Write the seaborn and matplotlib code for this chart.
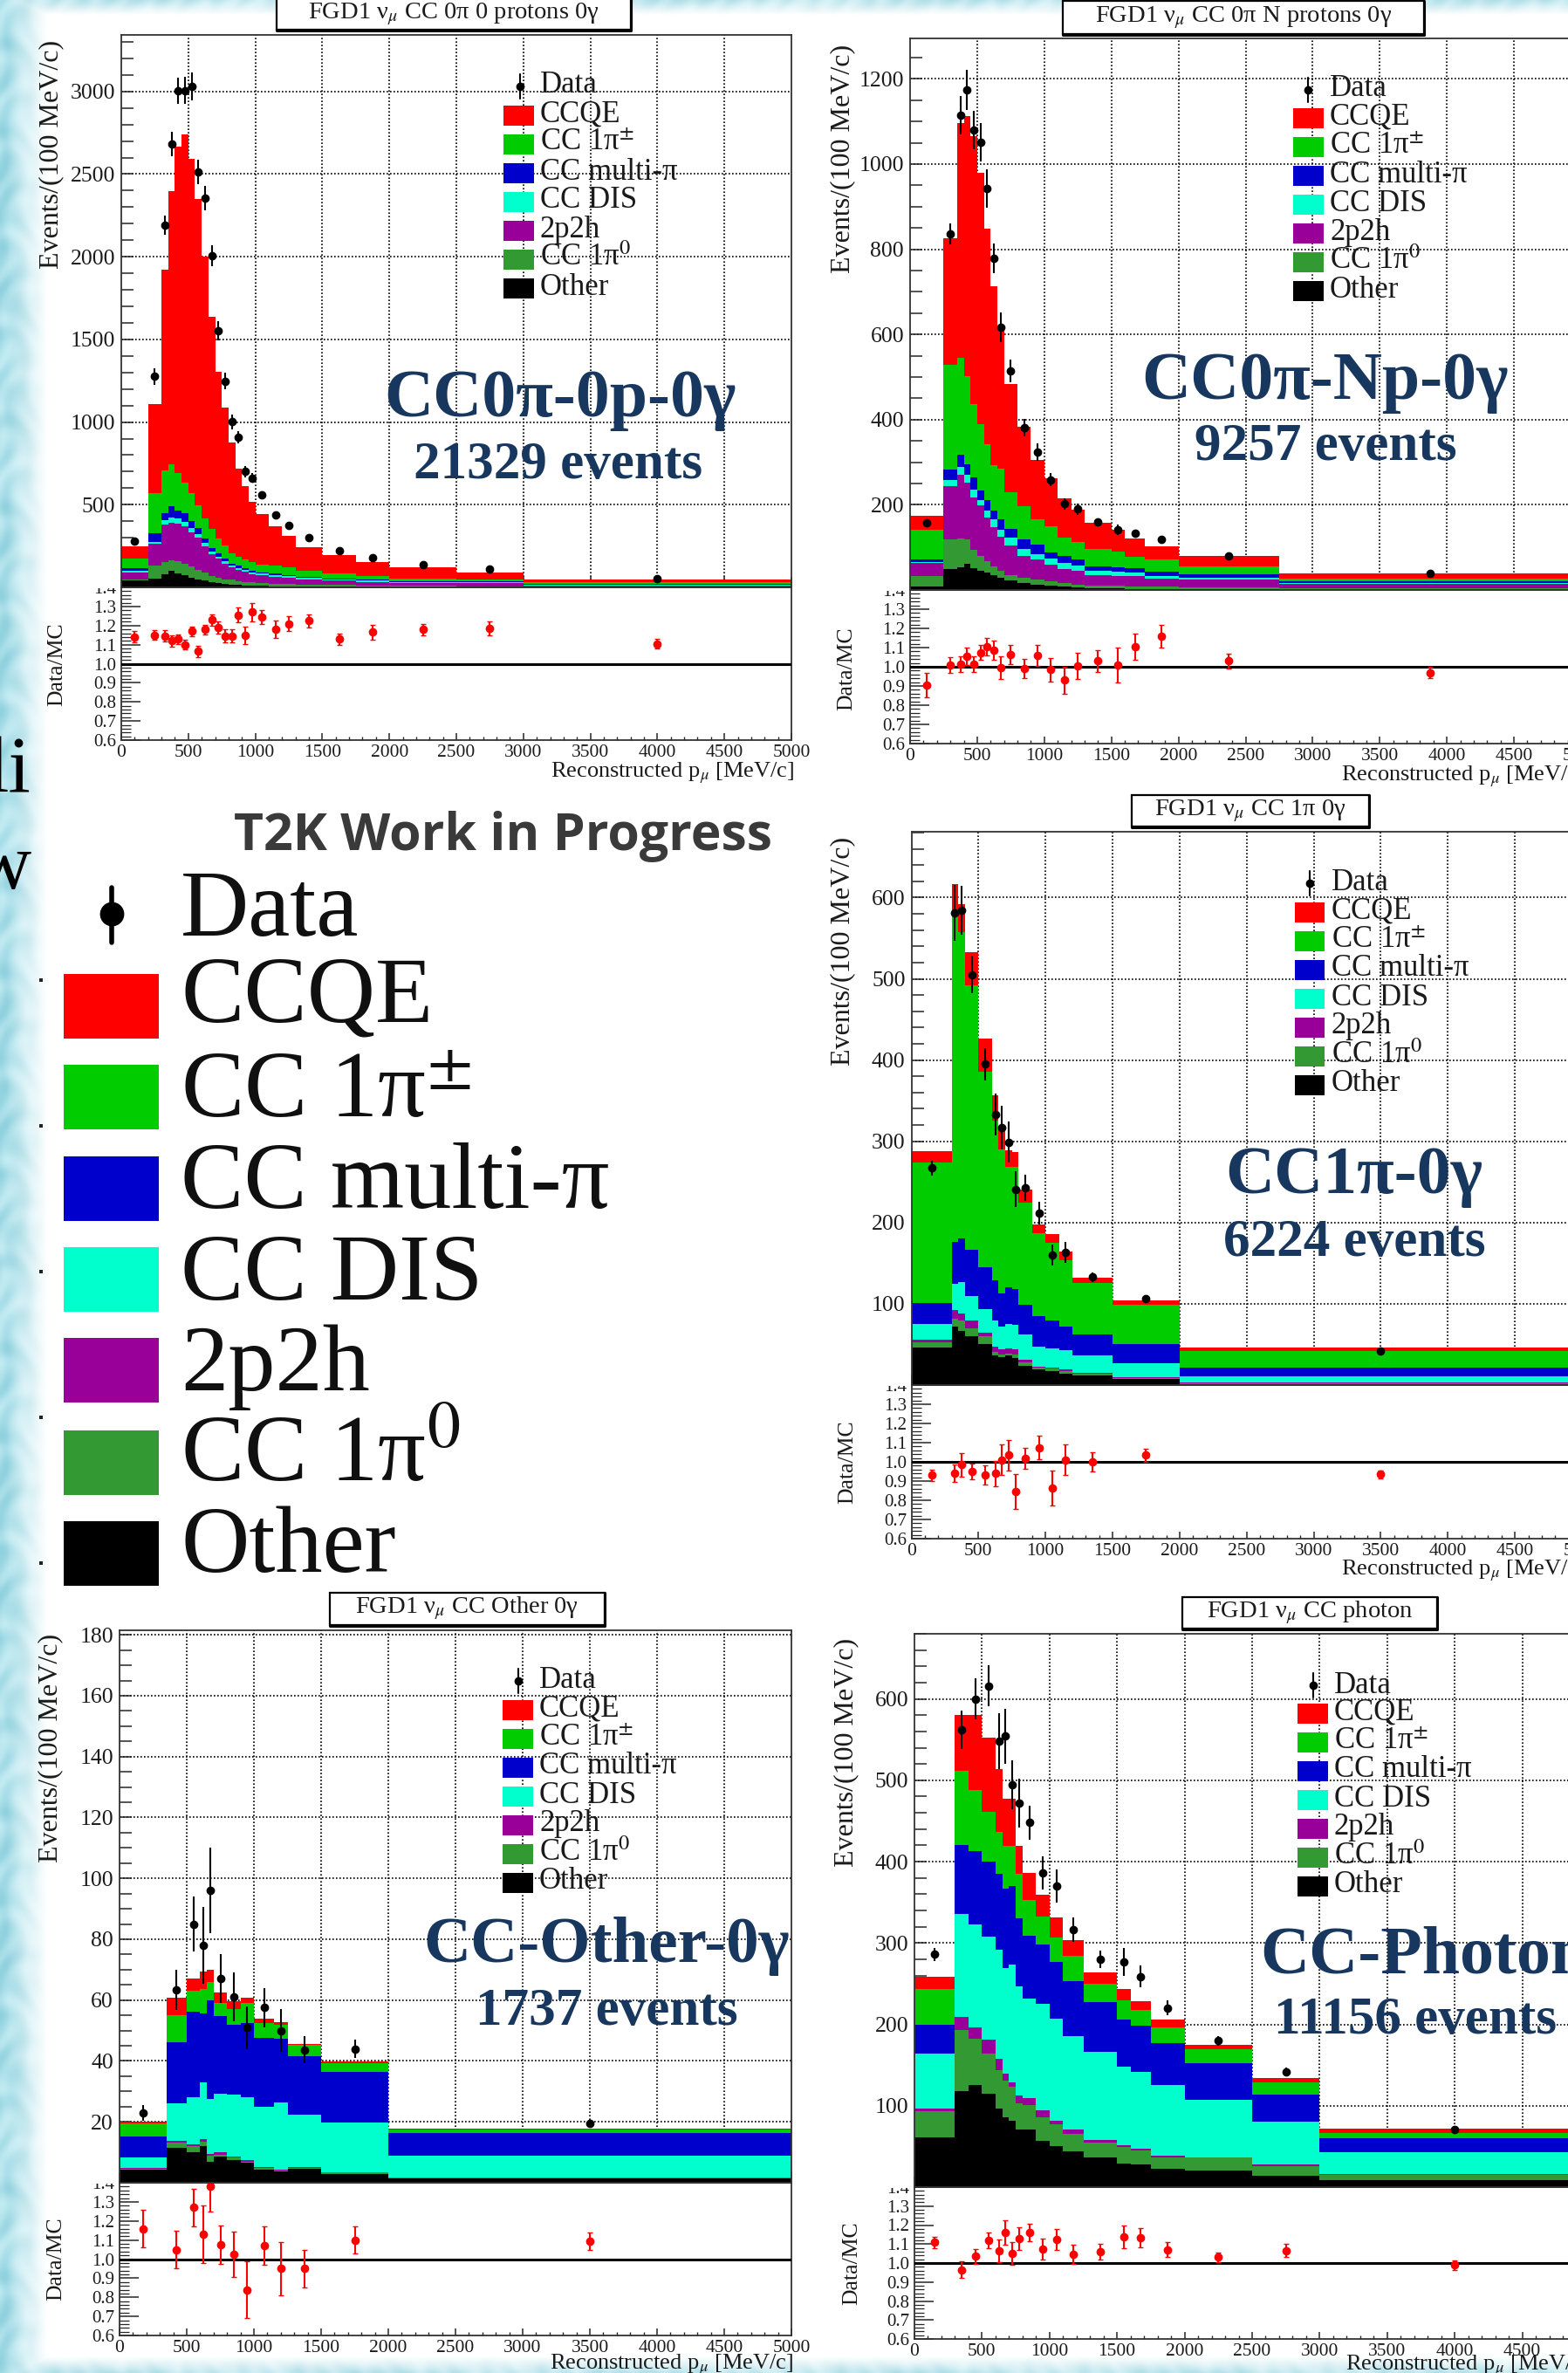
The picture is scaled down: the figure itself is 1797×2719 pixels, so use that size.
import numpy as np
import pandas as pd
import matplotlib
matplotlib.use("Agg")
import matplotlib.pyplot as plt
from matplotlib.patches import Rectangle
from matplotlib.ticker import MultipleLocator, FixedLocator, FixedFormatter, FuncFormatter
from matplotlib.transforms import Bbox
import seaborn as sns

W, H = 1797, 2719
MODES = ["CCQE", "CC 1pi+-", "CC multi-pi", "CC DIS", "2p2h", "CC 1pi0", "Other"]
LEGEND_LABELS = ["CCQE", r"CC 1π$^{\pm}$", "CC multi-π", "CC DIS", "2p2h", r"CC 1π$^{0}$", "Other"]
COLORS = ["#ff0000", "#00cc00", "#0000cc", "#00ffcc", "#990099", "#339933", "#000000"]

# ---------- panel A : CC0pi-0p-0gamma ----------
a_edges = [0,200,300,350,400,450,500,550,600,650,700,750,800,850,900,950,1000,1100,1200,1300,1500,1750,2000,2500,3000,5000]
a_top_ccqe = [250,1110,1920,2397,2665,2740,2590,2350,2000,1635,1305,1090,875,720,610,520,446,368,310,245,195,155,119,91,50]
a_top_1pi  = [176,570,706,742,690,636,570,494,418,352,297,251,206,185,167,155,139,130,121,100,82,70,55,48,33]
a_top_mpi  = [115,327,449,490,464,449,403,358,297,236,206,176,145,130,115,100,91,82,76,64,55,45,39,36,21]
a_top_dis  = [100,272,405,420,415,395,360,320,270,215,186,158,130,115,103,90,82,72,68,56,48,40,33,32,17]
a_top_2p2h = [90,265,380,390,385,370,335,300,250,200,172,145,120,105,95,80,72,64,58,48,40,33,26,27,12]
a_top_1pi0 = [50,130,155,165,160,140,125,105,90,70,60,50,45,37,33,30,26,22,20,17,14,11,8,7,4]
a_top_oth  = [40,55,80,100,85,75,60,50,40,30,25,20,18,15,12,10,8,7,6,5,4,3,2,2,1]
a_x    = [100,250,325,375,425,475,525,575,625,675,725,775,825,875,925,975,1050,1150,1250,1400,1625,1875,2250,2750,4000]
a_data = [282,1276,2191,2682,3003,3006,3030,2512,2355,2006,1552,1248,1003,909,700,661,561,436,373,300,221,179,139,109,55]
a_derr = [6,50,60,75,80,80,85,75,75,65,60,50,45,38,35,30,20,15,12,8,6,5,4,4,2]
a_rat  = [1.14,1.15,1.145,1.12,1.13,1.10,1.17,1.065,1.18,1.23,1.19,1.145,1.145,1.255,1.15,1.27,1.245,1.18,1.21,1.225,1.13,1.165,1.18,1.185,1.105]
a_rerr = [.03,.025,.03,.03,.025,.025,.025,.03,.025,.03,.03,.035,.035,.04,.045,.05,.035,.045,.04,.035,.03,.04,.03,.035,.025]

# ---------- panel B : CC0pi-Np-0gamma ----------
b_edges = [0,250,350,400,450,500,550,600,650,700,800,900,1000,1100,1200,1300,1500,1600,1750,2000,2750,5000]
b_top_ccqe = [174,826,1097,1112,1065,980,849,714,610,484,384,305,262,216,189,157,141,121,103,79,39]
b_top_1pi  = [141,528,546,502,437,390,343,294,284,229,196,165,150,123,112,97,91,77,71,56,26]
b_top_mpi  = [71,282,317,296,264,233,212,186,165,144,118,106,89,79,71,56,53,51,44,36,20]
b_top_dis  = [65,259,288,270,235,212,186,165,141,122,97,85,73,63,57,45,43,40,33,29,16]
b_top_2p2h = [63,243,270,253,218,198,171,147,124,104,80,71,59,50,45,35,33,32,26,24,15]
b_top_1pi0 = [33,118,121,118,95,80,67,55,46,35,28,25,20,17,13,11,10,9,8,6,4]
b_top_oth  = [9,50,53,61,51,46,40,34,28,22,16,13,10,8,7,5,4,3,3,2,1]
b_x    = [125,300,375,425,475,525,575,625,675,750,850,950,1050,1150,1250,1400,1550,1675,1875,2375,3875]
b_data = [157,836,1115,1174,1080,1051,942,779,617,514,381,324,259,202,190,160,142,133,119,80,38]
b_derr = [8,25,45,47,45,45,45,35,35,27,20,20,15,14,13,9,12,9,6,3,1.5]
b_rat  = [.905,1.01,1.015,1.055,1.015,1.075,1.105,1.085,.995,1.065,.99,1.06,.985,.93,1.005,1.03,1.01,1.105,1.16,1.03,.97]
b_rerr = [.065,.04,.04,.045,.04,.04,.045,.05,.06,.05,.05,.055,.06,.07,.07,.055,.09,.07,.06,.04,.03]

# ---------- panel C : CC1pi-0gamma ----------
c_edges = [0,300,350,400,500,600,650,700,750,800,900,1000,1100,1200,1500,2000,5000]
c_top_ccqe = [288,617,592,533,426,357,315,289,287,241,198,186,164,132,104,46]
c_top_1pi  = [274,577,558,492,386,325,290,268,268,224,187,175,154,126,99,42]
c_top_mpi  = [101,176,180,167,145,129,113,120,118,99,85,80,72,62,50,22]
c_top_dis  = [75,125,127,110,93,79,72,75,74,62,47,45,43,36,27,11]
c_top_2p2h = [56,92,88,79,64,47,44,45,44,31,23,22,19,15,10,3]
c_top_1pi0 = [53,82,79,70,60,41,38,39,38,28,22,20,17,14,9,2]
c_top_oth  = [46,72,67,60,50,36,34,36,33,24,19,17,14,12,8,1]
c_x    = [150,325,375,450,550,625,675,725,775,850,950,1050,1150,1350,1750,3500]
c_data = [267,581,584,505,395,333,317,299,241,243,212,160,163,133,106,42]
c_derr = [9,34,30,23,20,26,27,25,22,16,14,13,13,6,4,2]
c_rat  = [.93,.94,.985,.95,.93,.94,1.01,1.035,.845,1.02,1.075,.865,1.01,1.0,1.035,.935]
c_rerr = [.03,.045,.06,.04,.05,.065,.08,.08,.09,.055,.06,.09,.08,.05,.035,.02]

# ---------- panel D : CC-Other-0gamma ----------
d_edges = [0,350,500,600,650,700,800,900,1000,1150,1250,1500,2000,5000]
d_top_ccqe = [20,60.7,67,69.5,70,62.5,59.6,60.7,53.9,52.7,45.6,39.9,17.7]
d_top_1pi  = [19.4,55,63.2,63.7,66,59,57,59,52.5,52,45.3,39.4,17.4]
d_top_mpi  = [15.3,46.3,56.3,55.5,60,54.7,52,52.5,47.6,47.3,41.5,36.5,16.4]
d_top_dis  = [8.4,26,28,33,27.6,29.2,29,28,25,26.4,22.3,19.9,8.9]
d_top_2p2h = [4.9,13.8,12.5,14.4,9.5,9.9,8.5,7.5,5.1,4.3,5.1,3.4,1.8]
d_top_1pi0 = [4.6,13.1,12,13.6,9,9.2,8.2,7,4.8,3.9,4.9,3.3,1.6]
d_top_oth  = [4.3,11.5,10,12,7,8.7,7.5,6.5,4.3,3.6,4.6,3,1.3]
d_x    = [175,425,550,625,675,750,850,950,1075,1200,1375,1750,3500]
d_data = [23,63.4,85,78,96,67,61,51,57.5,50,43.7,44,19.4]
d_derr = [2.5,6.5,9,12.7,14,8,8,7,6.4,7,4.5,3,1]
d_rat  = [1.16,1.05,1.27,1.13,1.38,1.075,1.025,.84,1.07,.95,.95,1.10,1.095]
d_rerr = [.10,.10,.10,.15,.13,.10,.12,.15,.10,.14,.10,.07,.045]

# ---------- panel E : CC-Photon ----------
e_edges = [0,300,400,500,600,650,700,750,800,900,1000,1100,1250,1500,1600,1750,2000,2500,3000,5000]
e_top_ccqe = [259,580,580,552,514,477,477,419,386,359,331,304,264,243,228,206,175,134,72]
e_top_1pi  = [244,512,488,461,437,419,419,385,353,332,307,284,250,230,218,196,169,129,67]
e_top_mpi  = [199,420,413,400,385,367,370,330,309,298,277,253,227,206,198,177,152,114,60]
e_top_dis  = [164,336,323,308,292,269,274,247,232,225,207,186,166,148,142,125,107,80,43]
e_top_2p2h = [97,209,196,181,158,139,129,113,109,94,82,71,58,51,47,39,37,28,16]
e_top_1pi0 = [93,193,182,164,144,131,123,103,101,86,77,65,55,49,45,37,36,26,15]
e_top_oth  = [61,118,125,115,97,86,82,71,71,57,50,44,36,29,28,22,20,14,9]
e_x    = [150,350,450,550,625,675,725,775,850,950,1050,1175,1375,1550,1675,1875,2250,2750,4000]
e_data = [286,562,600,616,548,554,494,472,448,386,370,316,280,277,259,220,180,142,71]
e_derr = [8,24,25,25,34,34,30,30,21,20,20,15,11,17,13,9,6,5,3]
e_rat  = [1.11,.965,1.035,1.12,1.065,1.16,1.05,1.13,1.16,1.075,1.125,1.045,1.06,1.14,1.135,1.07,1.03,1.065,.99]
e_rerr = [.03,.045,.04,.04,.06,.065,.06,.06,.045,.055,.055,.05,.04,.06,.05,.04,.025,.035,.025]

sns.set_theme(style="ticks", rc={"axes.linewidth": 1.3, "mathtext.fontset": "stix"})
plt.rcParams["font.family"] = ["Liberation Serif", "DejaVu Serif"]
plt.rcParams["text.color"] = "#1a1a1a"

fig = plt.figure(figsize=(W / 100, H / 100), dpi=100, facecolor="white")


def frame(left, top, right, bottom):
    return [left / W, 1 - bottom / H, (right - left) / W, (bottom - top) / H]


# textured slide background (purely decorative)
bg = fig.add_axes([0, 0, 1, 1], zorder=0)
yy, xx = np.mgrid[0:H:2, 0:W:2]
tex = (np.sin(xx / 9.0 + np.sin(yy / 17.0) * 2.2) * np.sin(yy / 14.0 + np.sin(xx / 11.0) * 1.6) + 1) / 2
mask = np.clip(1.15 - xx / 46.0, 0, 1)
mask = np.maximum(mask, np.clip(1 - yy / 16.0, 0, 1) * 0.7)
mask = np.maximum(mask, np.clip((yy - 2700) / 19.0, 0, 1) * 0.75)
base = np.zeros(xx.shape + (3,))
for i, (lo, hi) in enumerate([(0.56, 0.76), (0.82, 0.92), (0.87, 0.95)]):
    base[..., i] = lo + (hi - lo) * tex
img = base * mask[..., None] + (1 - mask[..., None])
bg.imshow(img, extent=(0, W, H, 0), aspect="auto", interpolation="bilinear")
bg.set_xlim(0, W)
bg.set_ylim(H, 0)
bg.axis("off")

over = fig.add_axes([0, 0, 1, 1], zorder=10, facecolor="none")
over.set_xlim(0, W)
over.set_ylim(H, 0)
over.axis("off")


def panel(main_box, y_max, y_major, y_minor, ratio_box, edges, tops, x, data, derr, rat, rerr):
    ax = fig.add_axes(frame(*main_box), zorder=3, facecolor="white")
    rx = fig.add_axes(frame(*ratio_box), zorder=2, facecolor="white")
    tops = np.array(tops, dtype=float)
    heights = tops - np.vstack([tops[1:], np.zeros(tops.shape[1])])
    edges = np.array(edges, dtype=float)
    centers = (edges[:-1] + edges[1:]) / 2
    df = pd.concat([pd.DataFrame({"p": centers, "n": heights[i], "mode": m}) for i, m in enumerate(MODES)])
    sns.histplot(df, x="p", weights="n", hue="mode", hue_order=MODES, palette=dict(zip(MODES, COLORS)),
                 bins=list(edges), multiple="stack", element="step", alpha=1, linewidth=0, legend=False, ax=ax)
    ax.errorbar(x, data, yerr=derr, fmt="o", color="black", ms=6, elinewidth=1.5, capsize=0, zorder=5)
    ax.set_xlim(0, 5000)
    ax.set_ylim(0, y_max)
    ax.set_xlabel("")
    ax.set_ylabel("")
    ax.xaxis.set_major_locator(MultipleLocator(500))
    ax.xaxis.set_minor_locator(MultipleLocator(100))
    ax.yaxis.set_major_locator(MultipleLocator(y_major))
    ax.yaxis.set_minor_locator(MultipleLocator(y_minor))
    for v in np.arange(500, 5000, 500):
        ax.axvline(v, color="black", ls=(0, (1, 1.4)), lw=1.2, zorder=0.5)
    for v in np.arange(y_major, y_max, y_major):
        ax.axhline(v, color="black", ls=(0, (1, 1.4)), lw=1.2, zorder=0.5)
    ax.tick_params(axis="x", which="major", direction="in", length=9, labelbottom=False, width=1.1)
    ax.tick_params(axis="x", which="minor", direction="in", length=4.5, width=1)
    ax.tick_params(axis="y", which="both", direction="in", length=10, width=1.1)
    ax.tick_params(axis="y", which="major", labelsize=18.5, pad=5, labelcolor="#1a1a1a")
    ax.yaxis.set_major_formatter(FuncFormatter(lambda v, _: "" if v == 0 else f"{v:.0f}"))
    for s in ["top", "right", "left", "bottom"]:
        ax.spines[s].set_visible(True)
        ax.spines[s].set_color("#333333")

    rx.errorbar(x, rat, yerr=rerr, fmt="o", color="#ff0000", ms=6, elinewidth=1.5, capsize=2, zorder=5)
    rx.axhline(1.0, color="black", lw=2.2, zorder=4)
    rx.set_xlim(0, 5000)
    rx.set_ylim(0.6, 1.4)
    rx.xaxis.set_major_locator(MultipleLocator(500))
    rx.xaxis.set_minor_locator(MultipleLocator(100))
    rx.yaxis.set_major_locator(FixedLocator(np.round(np.arange(0.6, 1.41, 0.1), 1)))
    rx.yaxis.set_major_formatter(FixedFormatter([f"{v:.1f}" for v in np.arange(0.6, 1.41, 0.1)]))
    rx.yaxis.set_minor_locator(MultipleLocator(0.02))
    rx.tick_params(axis="x", which="major", direction="in", length=6, labelsize=15.5, pad=3.5, width=1.1, labelcolor="#1a1a1a")
    rx.tick_params(axis="x", which="minor", direction="in", length=3, width=1)
    rx.tick_params(axis="y", which="major", direction="in", length=16, labelsize=15, pad=4, width=1.1, labelcolor="#1a1a1a")
    rx.tick_params(axis="y", which="minor", direction="in", length=8, width=0.9)
    for s in ["top", "right", "left", "bottom"]:
        rx.spines[s].set_visible(True)
        rx.spines[s].set_color("#333333")
    # the "1.4" label is half hidden under the main frame in the original
    lab = rx.get_yticklabels()[-1]
    cut = main_box[3] + 1
    lab.set_clip_box(Bbox([[0, 0], [W, H - cut]]))
    lab.set_clip_on(True)
    return ax, rx


def small_legend(swatch_l, swatch_r, first_y, marker_x, marker_y, label_x, label_y):
    over.plot([marker_x, marker_x], [marker_y - 14, marker_y + 14], color="black", lw=1.5)
    over.plot([marker_x], [marker_y], "o", color="black", ms=6)
    over.text(label_x, label_y + 3, "Data", fontsize=25, va="center", ha="left")
    for i, (lab, col) in enumerate(zip(LEGEND_LABELS, COLORS)):
        yc = first_y + i * 33
        over.add_patch(Rectangle((swatch_l, yc - 11.5), swatch_r - swatch_l, 23, facecolor=col, edgecolor="none"))
        over.text(label_x, yc - 1, lab, fontsize=25, va="center", ha="left")


def title_box(l, t, r, b, text, ty):
    over.add_patch(Rectangle((l, t), r - l, b - t, facecolor="white", edgecolor="black", lw=1.6, clip_on=True))
    over.plot([l, r, r], [b + 1, b + 1, t], color="black", lw=2.2)
    over.text((l + r) / 2, ty + 3, text, fontsize=20.5, ha="center", va="center")


NAVY = "#17375e"


def tag(x, y, text, size, ha="center"):
    over.text(x, y + 6, text, fontsize=size, color=NAVY, fontweight="bold", ha=ha, va="center")


def side_labels(ev_x, ev_y, dm_x, dm_y, xl_x, xl_y):
    over.text(ev_x, ev_y + 3, "Events/(100 MeV/c)", rotation=90, fontsize=23, ha="center", va="center")
    over.text(dm_x, dm_y, "Data/MC", rotation=90, fontsize=18.5, ha="center", va="center")
    over.text(xl_x, xl_y, r"Reconstructed p$_{\mu}$ [MeV/c]", fontsize=19, ha="left", va="center")


# A
panel((139, 40, 907, 673), 3342, 500, 100, (139, 673, 907, 848),
      a_edges, [a_top_ccqe, a_top_1pi, a_top_mpi, a_top_dis, a_top_2p2h, a_top_1pi0, a_top_oth],
      a_x, a_data, a_derr, a_rat, a_rerr)
small_legend(577, 612, 132, 596, 99, 619, 95)
title_box(317, -6, 723, 34, r"FGD1 ν$_{\mu}$ CC 0π 0 protons 0γ", 13)
tag(642, 453, "CC0π-0p-0γ", 56)
tag(640, 527, "21329 events", 44)
side_labels(59, 174, 65, 761, 631, 886)

# B
panel((1043, 44, 1812, 676), 1295, 200, 50, (1043, 676, 1812, 852),
      b_edges, [b_top_ccqe, b_top_1pi, b_top_mpi, b_top_dis, b_top_2p2h, b_top_1pi0, b_top_oth],
      b_x, b_data, b_derr, b_rat, b_rerr)
small_legend(1482, 1517, 135.5, 1499, 103, 1524, 99)
title_box(1217.5, 1, 1632, 38.5, r"FGD1 ν$_{\mu}$ CC 0π N protons 0γ", 17)
tag(1519, 433, "CC0π-Np-0γ", 56)
tag(1519, 506, "9257 events", 44)
side_labels(966, 179, 970, 766, 1537, 890)

# C
panel((1044.5, 953, 1813, 1587), 681, 100, 20, (1044.5, 1587, 1813, 1763),
      c_edges, [c_top_ccqe, c_top_1pi, c_top_mpi, c_top_dis, c_top_2p2h, c_top_1pi0, c_top_oth],
      c_x, c_data, c_derr, c_rat, c_rerr)
small_legend(1483.5, 1518, 1045, 1501, 1011.5, 1525.5, 1008.6)
title_box(1297, 910.5, 1569, 947, r"FGD1 ν$_{\mu}$ CC 1π 0γ", 926)
tag(1552, 1343, "CC1π-0γ", 56)
tag(1552, 1418, "6224 events", 44)
side_labels(966, 1087, 971, 1675, 1537, 1800)

# D
panel((137, 1868, 907, 2501), 181.5, 20, 5, (137, 2501, 907, 2676),
      d_edges, [d_top_ccqe, d_top_1pi, d_top_mpi, d_top_dis, d_top_2p2h, d_top_1pi0, d_top_oth],
      d_x, d_data, d_derr, d_rat, d_rerr)
small_legend(576, 611, 1959, 594, 1926, 618, 1923)
title_box(377.5, 1824.6, 692.5, 1862, r"FGD1 ν$_{\mu}$ CC Other 0γ", 1840)
tag(695, 2224, "CC-Other-0γ", 54)
tag(695, 2299, "1737 events", 44)
side_labels(58, 2000, 64, 2588, 630, 2710)

# E
panel((1048, 1872, 1822, 2506), 680, 100, 20, (1048, 2506, 1822, 2680),
      e_edges, [e_top_ccqe, e_top_1pi, e_top_mpi, e_top_dis, e_top_2p2h, e_top_1pi0, e_top_oth],
      e_x, e_data, e_derr, e_rat, e_rerr)
small_legend(1487, 1522, 1963, 1504.5, 1931, 1529, 1928)
title_box(1355, 1830, 1647, 1866, r"FGD1 ν$_{\mu}$ CC photon", 1845)
tag(1444, 2236, "CC-Photon", 56, ha="left")
tag(1460, 2309, "11156 events", 44, ha="left")
side_labels(970, 2005, 976, 2593, 1542, 2711)

# large central legend
over.text(577, 958, "T2K Work in Progress", fontsize=42.5, fontweight="bold", family="Open Sans",
          color="#3a3a3a", ha="center", va="center")
over.plot([128, 128], [1017, 1080], color="black", lw=4)
over.plot([128], [1047], "o", color="black", ms=19)
over.text(207, 1046, "Data", fontsize=78, ha="left", va="center", color="#101010")
big_swatch_y = [1115.5, 1220, 1325, 1429, 1533, 1639, 1743]
big_label_y = [1145, 1254, 1358, 1463, 1567, 1671, 1775]
for yy0, yl, lab, col in zip(big_swatch_y, big_label_y, LEGEND_LABELS, COLORS):
    over.add_patch(Rectangle((73, yy0), 109, 74, facecolor=col, edgecolor="none"))
    over.text(207, yl, lab, fontsize=78, ha="left", va="center", color="#101010")

# cropped slide text and bullets at the left margin
over.text(35, 907, "li", fontsize=66, ha="right", va="baseline", color="black")
over.text(36, 1018, "w", fontsize=66, ha="right", va="baseline", color="black")
for yb in [1123, 1290, 1457, 1624, 1791]:
    over.add_patch(Rectangle((45, yb - 2), 4, 4, facecolor="#222222", edgecolor="none"))

fig.savefig("out.png", dpi=100, facecolor="white")
